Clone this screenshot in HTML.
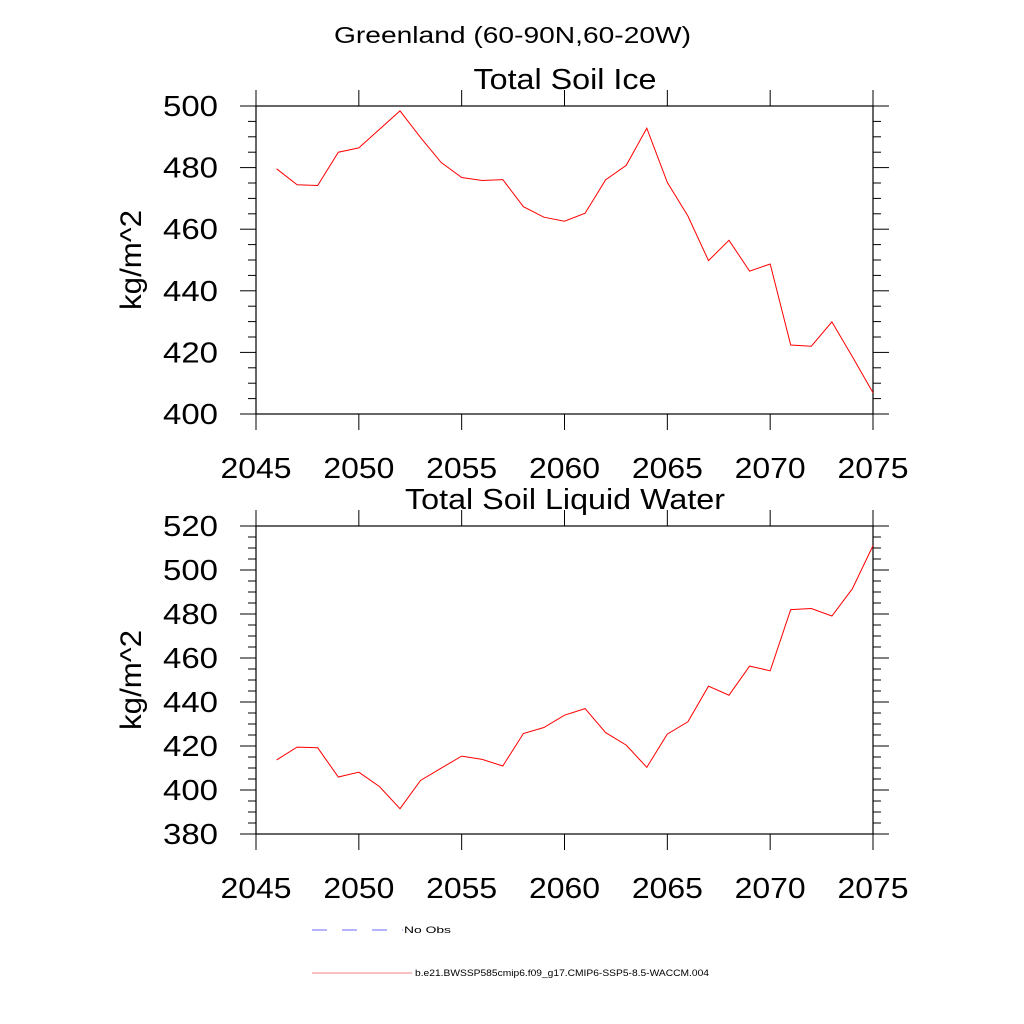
<!DOCTYPE html>
<html><head><meta charset="utf-8"><style>
body{margin:0;background:#fff}
svg{display:block;font-family:"Liberation Sans",sans-serif}
</style></head><body>
<svg id="chart" width="1024" height="1024" viewBox="0 0 1024 1024" xmlns="http://www.w3.org/2000/svg">
<rect width="1024" height="1024" fill="#fff"/>
<text x="334" y="43" font-size="23" textLength="357" lengthAdjust="spacingAndGlyphs">Greenland (60-90N,60-20W)</text>
<g id="p1"></g><g id="p2"></g>
<g>
<line x1="312" y1="930" x2="403" y2="930" stroke="#6a6aff" stroke-width="1" stroke-dasharray="15,15"/>
<text x="404" y="933" font-size="9" textLength="47" lengthAdjust="spacingAndGlyphs">No Obs</text>
<line x1="312" y1="973" x2="412" y2="973" stroke="#f08080" stroke-width="1"/>
<text x="415" y="976" font-size="9" textLength="294" lengthAdjust="spacingAndGlyphs">b.e21.BWSSP585cmip6.f09_g17.CMIP6-SSP5-8.5-WACCM.004</text>
</g>
</svg>
<script>
const years=[2046,2047,2048,2049,2050,2051,2052,2053,2054,2055,2056,2057,2058,2059,2060,2061,2062,2063,2064,2065,2066,2067,2068,2069,2070,2071,2072,2073,2074,2075];
const iceValues=[479.6,474.4,474.2,485,486.4,492.4,498.4,489.8,481.7,476.8,475.8,476.1,467.3,463.9,462.6,465.2,476,480.7,492.8,475.2,464.3,449.8,456.4,446.4,448.7,422.4,422,429.9,418.6,406.9];
const waterValues=[413.7,419.5,419.2,405.9,408.1,401.6,391.5,404.3,409.9,415.4,413.9,410.9,425.7,428.4,434,437,426.1,420.4,410.3,425.4,431,447.2,443.1,456.3,454.2,482,482.5,479.1,491.5,511.1];
const xTicks=[2045,2050,2055,2060,2065,2070,2075];
const iceYTicks=[400,420,440,460,480,500];
const waterYTicks=[380,400,420,440,460,480,500,520];
const NS="http://www.w3.org/2000/svg";
function mk(parent,tag,attrs,text){const e=document.createElementNS(NS,tag);for(const k in attrs)e.setAttribute(k,attrs[k]);if(text!==undefined)e.textContent=text;parent.appendChild(e);return e;}
function panel(gid,prefix,title,titleLen,top,bottom,ymin,ymax,yTicks,vals){
  const g=document.getElementById(gid);
  const L=256,R=873;
  const X=v=>L+(v-2045)/(2075-2045)*(R-L);
  const Y=v=>bottom-(v-ymin)/(ymax-ymin)*(bottom-top);
  const t=mk(g,'text',{x:565,y:top-17,'font-size':29,'text-anchor':'middle',textLength:titleLen,lengthAdjust:'spacingAndGlyphs'},title);
  
  
  const f=mk(g,'rect',{x:L,y:top,width:R-L,height:bottom-top,fill:'none',stroke:'#000','stroke-width':1.2});
  
  
  for(let v=ymin;v<=ymax+0.01;v+=5){
    const maj=yTicks.includes(v);const len=maj?16:8;
    const a=mk(g,'line',{x1:L-len,y1:Y(v),x2:L,y2:Y(v),stroke:'#000','stroke-width':1});
    
    
    const b=mk(g,'line',{x1:R,y1:Y(v),x2:R+len,y2:Y(v),stroke:'#000','stroke-width':1});
    
    
  }
  yTicks.forEach(v=>{
    const l=mk(g,'text',{x:218,y:Y(v)+10,'font-size':29,'text-anchor':'end',textLength:55,lengthAdjust:'spacingAndGlyphs'},String(v));
    
    
  });
  xTicks.forEach(v=>{
    const a=mk(g,'line',{x1:X(v),y1:top-16,x2:X(v),y2:top,stroke:'#000','stroke-width':1});
    
    
    const b=mk(g,'line',{x1:X(v),y1:bottom,x2:X(v),y2:bottom+16,stroke:'#000','stroke-width':1});
    
    
    const l=mk(g,'text',{x:X(v),y:bottom+64,'font-size':29,'text-anchor':'middle',textLength:71,lengthAdjust:'spacingAndGlyphs'},String(v));
    
    
  });
  const yc=(top+bottom)/2;
  const yl=mk(g,'text',{x:141,y:yc,'font-size':30,'text-anchor':'middle',textLength:100,lengthAdjust:'spacingAndGlyphs',transform:`rotate(-90 141 ${yc})`},'kg/m^2');
  
  
  const pts=vals.map((v,i)=>X(years[i]).toFixed(1)+','+Y(v).toFixed(1)).join(' ');
  const pl=mk(g,'polyline',{points:pts,fill:'none',stroke:'#ff0000','stroke-width':1});
  
  
}
panel('p1','ice','Total Soil Ice',183,106,414,400,500,iceYTicks,iceValues);
panel('p2','water','Total Soil Liquid Water',320,526,834,380,520,waterYTicks,waterValues);
</script>
</body></html>
